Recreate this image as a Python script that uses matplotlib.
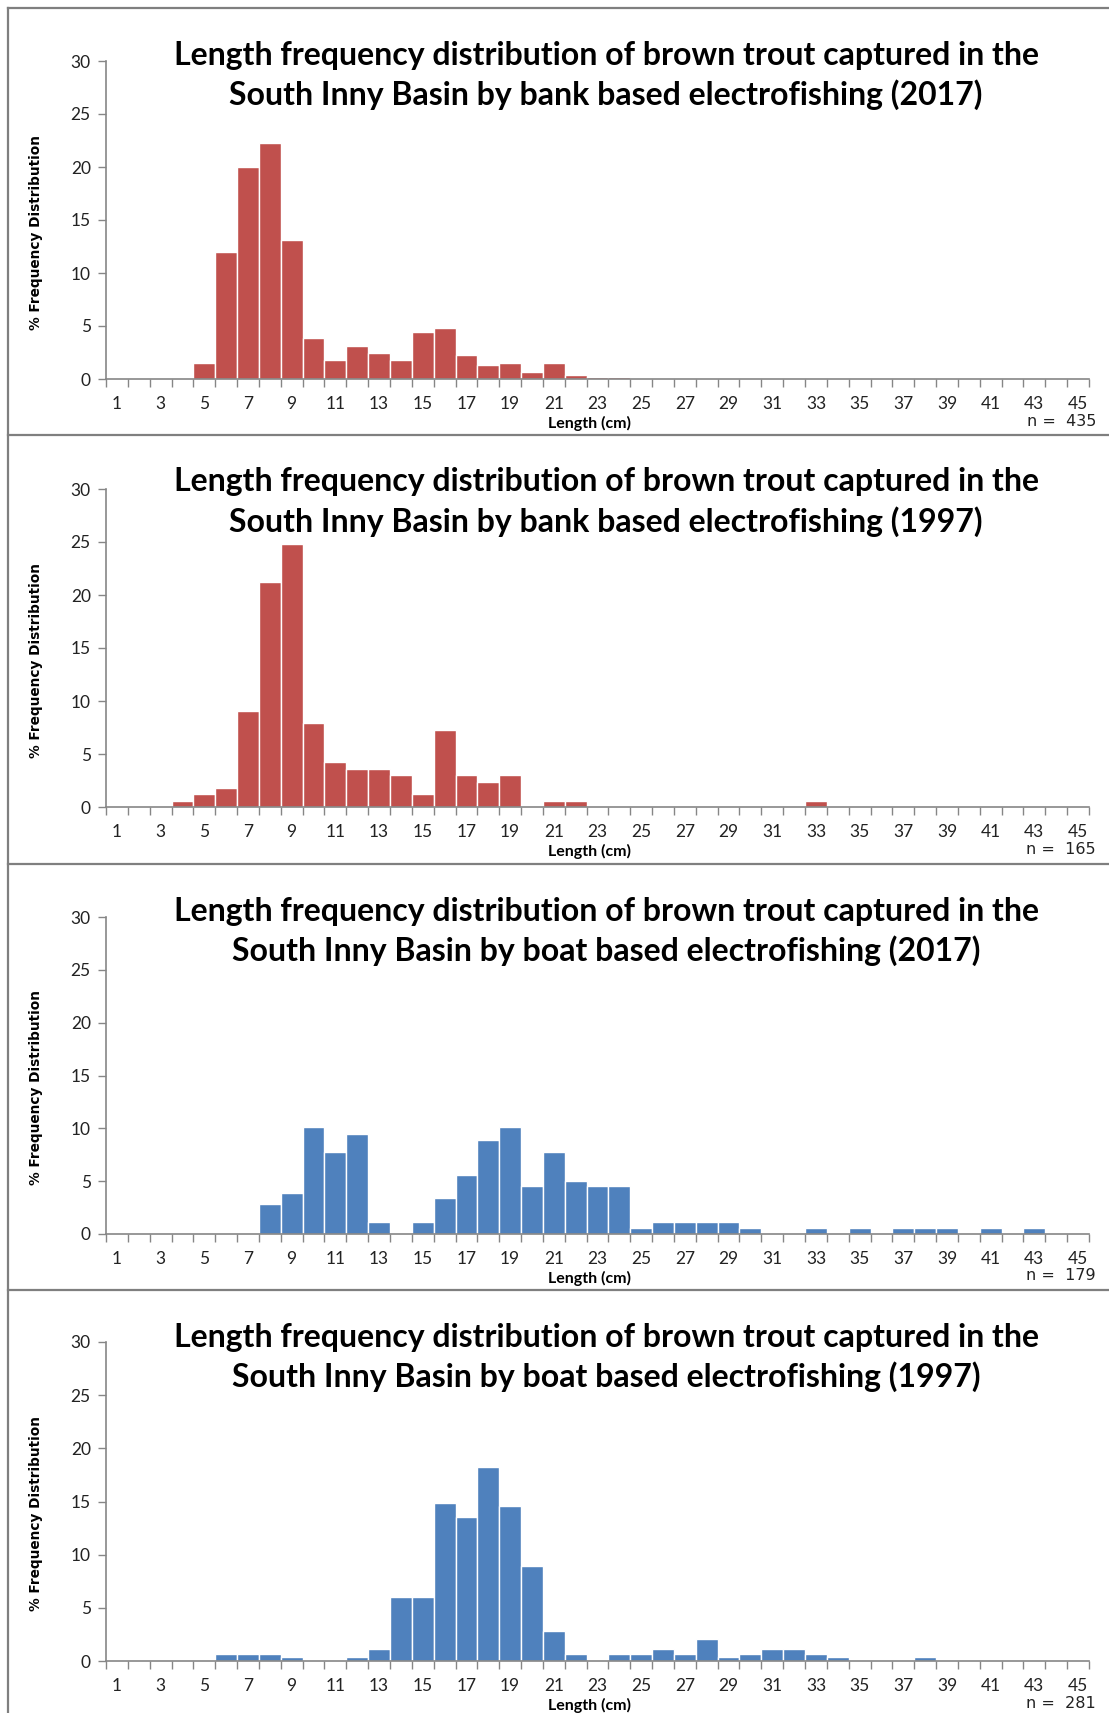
import numpy as np
import matplotlib
matplotlib.use("Agg")
import matplotlib.pyplot as plt
from matplotlib.lines import Line2D

# length classes (cm) and % frequency per class
lengths = np.arange(1, 46)

bank_2017 = [0, 0, 0, 0, 1.5, 12.0, 20.0, 22.3, 13.1, 3.9,
             1.8, 3.1, 2.5, 1.8, 4.4, 4.8, 2.3, 1.3, 1.5, 0.7,
             1.5, 0.4, 0.2, 0.2, 0, 0, 0, 0, 0, 0,
             0, 0, 0, 0, 0, 0, 0, 0, 0, 0,
             0, 0, 0, 0, 0]
bank_1997 = [0, 0, 0, 0.6, 1.2, 1.8, 9.1, 21.2, 24.8, 7.9,
             4.2, 3.6, 3.6, 3.0, 1.2, 7.3, 3.0, 2.4, 3.0, 0,
             0.6, 0.6, 0, 0, 0, 0, 0, 0, 0, 0,
             0, 0, 0.6, 0, 0, 0, 0, 0, 0, 0,
             0, 0, 0, 0, 0]
boat_2017 = [0, 0, 0, 0, 0, 0, 0, 2.8, 3.9, 10.1,
             7.8, 9.5, 1.1, 0, 1.1, 3.4, 5.6, 8.9, 10.1, 4.5,
             7.8, 5.0, 4.5, 4.5, 0.6, 1.1, 1.1, 1.1, 1.1, 0.6,
             0, 0, 0.6, 0, 0.6, 0, 0.6, 0.6, 0.6, 0,
             0.6, 0, 0.6, 0, 0]
boat_1997 = [0, 0, 0, 0, 0, 0.7, 0.7, 0.7, 0.4, 0,
             0, 0.4, 1.1, 6.0, 6.0, 14.9, 13.5, 18.2, 14.6, 8.9,
             2.8, 0.7, 0, 0.7, 0.7, 1.1, 0.7, 2.1, 0.4, 0.7,
             1.1, 1.1, 0.7, 0.4, 0, 0, 0, 0.4, 0, 0,
             0, 0, 0, 0, 0]

series = [bank_2017, bank_1997, boat_2017, boat_1997]
methods = ["bank", "bank", "boat", "boat"]
years = ["2017", "1997", "2017", "1997"]
sample_sizes = [435, 165, 179, 281]

RED = "#C0504D"
BLUE = "#4F81BD"
colors = [RED, RED, BLUE, BLUE]
AXIS_GREY = "#868686"
TEXT = "#222222"

W, H = 1109, 1713
fig = plt.figure(figsize=(W / 100, H / 100), dpi=100)

# pixel layout of each panel: frame top, plot top (y=30), plot bottom (y=0)
frame_tops = [8, 435, 864, 1290]
plot_tops = [61, 489, 917, 1342]
plot_bottoms = [379, 807, 1234, 1661]
x_left, x_right = 106, 1089


def fx(px):
    return px / W


def fy(py):
    return 1 - py / H


# panel frames: horizontal separators plus a left edge
for top in frame_tops:
    fig.add_artist(Line2D([fx(8), 1], [fy(top), fy(top)], color="#7f7f7f",
                          lw=1.6, transform=fig.transFigure))
fig.add_artist(Line2D([fx(8), fx(8)], [fy(8), 0], color="#7f7f7f",
                      lw=1.6, transform=fig.transFigure))

for i, vals in enumerate(series):
    top, bottom = plot_tops[i], plot_bottoms[i]
    ax = fig.add_axes([fx(x_left), fy(bottom), fx(x_right - x_left),
                       (bottom - top) / H])
    ax.bar(lengths, vals, width=1.0, color=colors[i], edgecolor="white",
           linewidth=1.0, zorder=2)

    ax.set_xlim(0.5, 45.5)
    ax.set_ylim(0, 30)
    ax.set_yticks(range(0, 31, 5))
    ax.set_xticks(lengths[::2])
    ax.set_xticks(np.arange(0.5, 46, 1), minor=True)
    ax.tick_params(axis="x", which="major", length=0, pad=12,
                   labelsize=12.5, labelcolor=TEXT)
    ax.tick_params(axis="x", which="minor", length=6, width=1,
                   color=AXIS_GREY, direction="out")
    ax.tick_params(axis="y", length=6, width=1, color=AXIS_GREY,
                   labelsize=12.5, labelcolor=TEXT, pad=5)
    for lab in ax.get_xticklabels() + ax.get_yticklabels():
        lab.set_family("Lato")

    for side in ("top", "right"):
        ax.spines[side].set_visible(False)
    for side in ("left", "bottom"):
        ax.spines[side].set_color(AXIS_GREY)
        ax.spines[side].set_linewidth(1.2)

    # rotated y label placed in figure coordinates
    fig.text(fx(36), fy((top + bottom) / 2 + 12), "% Frequency Distribution",
             rotation=90, ha="center", va="center", fontsize=9.8,
             fontweight="bold", family="DejaVu Sans")

    # two-line title
    ft = frame_tops[i]
    fig.text(fx(606), fy(ft + 47),
             "Length frequency distribution of brown trout captured in the",
             ha="center", va="center", fontsize=23, fontweight="bold",
             family="Lato")
    fig.text(fx(606), fy(ft + 87),
             f"South Inny Basin by {methods[i]} based electrofishing ({years[i]})",
             ha="center", va="center", fontsize=23, fontweight="bold",
             family="Lato")

    fig.text(fx(590), fy(bottom + 44), "Length (cm)", ha="center",
             va="center", fontsize=11.5, fontweight="bold", family="Lato")
    fig.text(fx(1096), fy(bottom + 42), f"n =  {sample_sizes[i]}",
             ha="right", va="center", fontsize=11.5, family="DejaVu Sans",
             color=TEXT)

fig.savefig("out.png", dpi=100)
plt.close(fig)
